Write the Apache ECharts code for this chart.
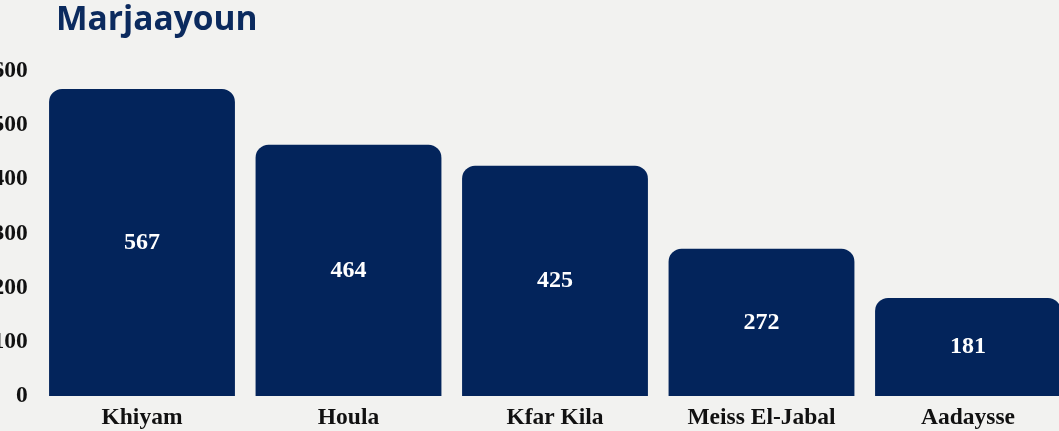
<!DOCTYPE html>
<html><head><meta charset="utf-8">
<script src="https://cdn.jsdelivr.net/npm/echarts@6/dist/echarts.min.js"></script>
<style>html,body{margin:0;padding:0;background:#f2f2f0;overflow:hidden;width:1059px;height:431px;}#c{width:1090px;height:431px;}</style>
</head><body><div id="c"></div>
<script>
const categories = ["Khiyam", "Houla", "Kfar Kila", "Meiss El-Jabal", "Aadaysse"];
const values = [567, 464, 425, 272, 181];
const yTicks = [0, 100, 200, 300, 400, 500, 600];

const chart = echarts.init(document.getElementById('c'));
chart.setOption({
  backgroundColor: '#f2f2f0',
  animation: false,
  title: {
    text: 'Marjaayoun', left: 51, top: -2,
    textStyle: { fontFamily: 'Open Sans', fontWeight: 'bold', fontSize: 33.5, color: '#0b2a5e' }
  },
  grid: { left: 38.75, top: 71, width: 1032.5, bottom: 35, containLabel: false, outerBoundsMode: 'none' },
  xAxis: {
    type: 'category', data: categories,
    axisLine: { show: false }, axisTick: { show: false },
    axisLabel: { color: '#111', fontFamily: 'Liberation Serif', fontWeight: 'bold', fontSize: 23.5, margin: 10 }
  },
  yAxis: {
    type: 'value', min: 0, max: 600, interval: 100,
    splitLine: { show: false }, axisLine: { show: false }, axisTick: { show: false },
    axisLabel: { color: '#111', fontFamily: 'Liberation Serif', fontWeight: 'bold', fontSize: 23.5, margin: 11,
      formatter: v => yTicks.includes(v) ? String(v) : '' }
  },
  series: [{
    type: 'bar', data: values, barCategoryGap: '10%',
    itemStyle: { color: '#03245b', borderRadius: [13, 13, 0, 0] },
    label: { show: true, position: 'inside', color: '#fff', fontFamily: 'Liberation Serif', fontWeight: 'bold', fontSize: 24 }
  }]
});
</script></body></html>
